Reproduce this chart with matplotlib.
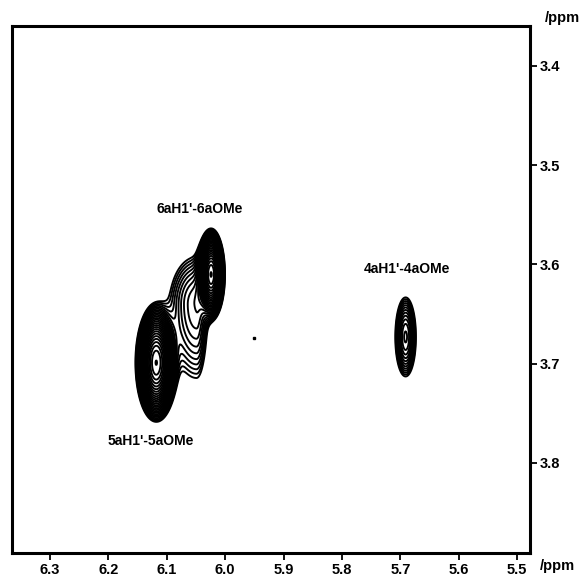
import numpy as np
import matplotlib
matplotlib.use("Agg")
import matplotlib.pyplot as plt

plt.rcParams['font.family'] = ['Liberation Sans', 'DejaVu Sans']

# Peak parameters (ppm); sigmas toward higher/lower ppm
peak_names = ["6aH1'-6aOMe", "5aH1'-5aOMe", "4aH1'-4aOMe", "6a shoulder"]
peak_x = [6.024, 6.118, 5.691, 6.049]
peak_y = [3.610, 3.699, 3.673, 3.640]
peak_sx_hi = [0.0090, 0.0135, 0.0100, 0.0290]
peak_sx_lo = [0.0090, 0.0135, 0.0100, 0.0120]
peak_sy_hi = [0.0175, 0.0225, 0.0225, 0.0470]
peak_sy_lo = [0.0175, 0.0225, 0.0225, 0.0300]
peak_amp = [33.0, 33.0, 4.8, 3.5]

label_text = ["6aH1'-6aOMe", "5aH1'-5aOMe", "4aH1'-4aOMe"]
label_x = [6.044, 6.127, 5.688]
label_y = [3.544, 3.778, 3.605]

dot_x = [5.951]
dot_y = [3.674]

x_ticks = [6.3, 6.2, 6.1, 6.0, 5.9, 5.8, 5.7, 5.6, 5.5]
y_ticks = [3.4, 3.5, 3.6, 3.7, 3.8]

fig = plt.figure(figsize=(5.79, 5.76), dpi=100)
ax = fig.add_axes([12/579, 1-553/576, 518/579, 527/576])

xs = np.linspace(6.365, 5.478, 800)
ys = np.linspace(3.3597, 3.8907, 800)
X, Y = np.meshgrid(xs, ys)
Z = np.zeros_like(X)
for px, py, sxh, sxl, syh, syl, a in zip(peak_x, peak_y, peak_sx_hi, peak_sx_lo,
                                         peak_sy_hi, peak_sy_lo, peak_amp):
    sx = np.where(X >= px, sxh, sxl)
    sy = np.where(Y >= py, syh, syl)
    Z += a * np.exp(-0.5 * (((X - px) / sx) ** 2 + ((Y - py) / sy) ** 2))

levels = 1.0 * 1.15 ** np.arange(0, 26)
ax.contour(X, Y, Z, levels=levels, colors='black', linewidths=1.35)

ax.plot(dot_x, dot_y, marker='s', ms=2, color='black', ls='none')

for t, lx, ly in zip(label_text, label_x, label_y):
    ax.text(lx, ly, t, ha='center', va='center', fontsize=10, fontweight='bold')

ax.set_xlim(6.365, 5.478)
ax.set_ylim(3.8907, 3.3597)
ax.set_xticks(x_ticks)
ax.set_xticklabels([f"{v:.1f}" for v in x_ticks])
ax.set_yticks(y_ticks)
ax.set_yticklabels([f"{v:.1f}" for v in y_ticks])
ax.yaxis.tick_right()
ax.tick_params(axis='both', direction='out', length=5, width=1.3, labelsize=10.5, pad=2)
for lab in ax.get_xticklabels() + ax.get_yticklabels():
    lab.set_fontweight('bold')
for s in ax.spines.values():
    s.set_linewidth(2.2)

fig.text(545/579, 1-18/576, "/ppm", fontsize=10.5, fontweight='bold', ha='left', va='center')
fig.text(540/579, 1-566/576, "/ppm", fontsize=10.5, fontweight='bold', ha='left', va='center')

fig.savefig("out.png", dpi=100)
